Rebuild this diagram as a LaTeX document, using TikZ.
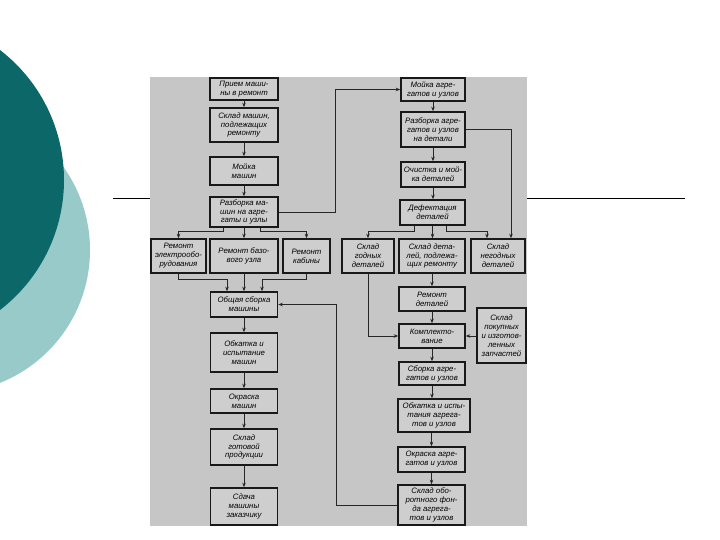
\documentclass[tikz,border=0pt]{standalone}
\usepackage{fontspec}
\setmainfont{Liberation Sans}
\usetikzlibrary{arrows.meta}
\definecolor{tealdark}{RGB}{12,104,104}
\definecolor{teallight}{RGB}{152,202,202}
\definecolor{scangray}{RGB}{198,198,198}
\definecolor{boxgray}{RGB}{206,206,206}
\tikzset{
  bx/.style={draw=black!90, line width=1.6pt, fill=boxgray, inner sep=0.5pt, align=center,
    font=\itshape\fontsize{7.8}{8.9}\selectfont, text=black},
  arr/.style={draw=black!85, line width=0.8pt, -{Stealth[length=4.5pt,width=3.5pt]}},
  slideline/.style={draw=black, line width=0.9pt}
}
\begin{document}
\begin{tikzpicture}[x=1pt,y=-1pt]
\useasboundingbox (0,0) rectangle (720,540);
\clip (0,0) rectangle (720,540);
% slide decoration
\fill[teallight] (-53,250) circle[radius=143pt];
\fill[tealdark] (-100,180) circle[radius=164pt];
\coordinate (hl1) at (113,198);
\coordinate (hl2) at (150,198);
\coordinate (hr1) at (527,198);
\coordinate (hr2) at (685,198);
\draw[slideline] (hl1) -- (hl2);
\draw[slideline] (hr1) -- (hr2);
% scan background
\fill[scangray] (150,77) rectangle (527,526);

% left column
\node[bx, minimum width=68pt, minimum height=22pt] (L1) at (244,89) {Прием маши-\\ны в ремонт};
\node[bx, minimum width=68pt, minimum height=34pt] (L2) at (244,125) {Склад машин,\\подлежащих\\ремонту};
\node[bx, minimum width=68pt, minimum height=28pt] (L3) at (244,171) {Мойка\\машин};
\node[bx, minimum width=68pt, minimum height=30pt] (L4) at (244,212) {Разборка ма-\\шин на агре-\\гаты и узлы};
\node[bx, minimum width=55pt, minimum height=34pt] (E) at (178.5,256) {Ремонт\\электрообо-\\рудования};
\node[bx, minimum width=68pt, minimum height=34pt] (B) at (244,256) {Ремонт базо-\\вого узла};
\node[bx, minimum width=47pt, minimum height=34pt] (K) at (306.5,256) {Ремонт\\кабины};
\node[bx, minimum width=67pt, minimum height=25pt] (L5) at (244,304.5) {Общая сборка\\машины};
\node[bx, minimum width=67pt, minimum height=39pt] (L6) at (244,352.5) {Обкатка и\\испытание\\машин};
\node[bx, minimum width=67pt, minimum height=24pt] (L7) at (244,401) {Окраска\\машин};
\node[bx, minimum width=67pt, minimum height=36pt] (L8) at (244,447) {Склад\\готовой\\продукции};
\node[bx, minimum width=67pt, minimum height=37pt] (L9) at (244,506.5) {Сдача\\машины\\заказчику};

% right column
\node[bx, minimum width=64pt, minimum height=23pt] (R1) at (433,89.5) {Мойка агре-\\гатов и узлов};
\node[bx, minimum width=64pt, minimum height=35pt] (R2) at (433,129.5) {Разборка агре-\\гатов и узлов\\на детали};
\node[bx, minimum width=64pt, minimum height=25pt] (R3) at (433,174.5) {Очистка и мой-\\ка деталей};
\node[bx, minimum width=65pt, minimum height=25pt] (R4) at (432.5,212.5) {Дефектация\\деталей};
\node[bx, minimum width=52pt, minimum height=34pt] (G) at (368,256) {Склад\\годных\\деталей};
\node[bx, minimum width=66pt, minimum height=34pt] (P) at (432,256) {Склад дета-\\лей, подлежа-\\щих ремонту};
\node[bx, minimum width=54pt, minimum height=34pt] (N) at (498,256) {Склад\\негодных\\деталей};
\node[bx, minimum width=66pt, minimum height=24pt] (R5) at (432,299) {Ремонт\\деталей};
\node[bx, minimum width=66pt, minimum height=24pt] (R6) at (432,336) {Комплекто-\\вание};
\node[bx, minimum width=49pt, minimum height=55pt] (S) at (501.5,335.5) {Склад\\покупных\\и изготов-\\ленных\\запчастей};
\node[bx, minimum width=66pt, minimum height=23pt] (R7) at (432,373.5) {Сборка агре-\\гатов и узлов};
\node[bx, minimum width=72pt, minimum height=33pt] (R8) at (434,415.5) {Обкатка и испы-\\тания агрега-\\тов и узлов};
\node[bx, minimum width=67pt, minimum height=25pt] (R9) at (431.5,459.5) {Окраска агре-\\гатов и узлов};
\node[bx, minimum width=67pt, minimum height=40pt] (R10) at (431.5,505) {Склад обо-\\ротного фон-\\да агрега-\\тов и узлов};

% helper coordinates
\coordinate (b1) at (223,231);
\coordinate (b2) at (260,231);
\coordinate (m1) at (227,279);
\coordinate (m2) at (262,279);
\coordinate (c1) at (335,0);
\coordinate (c2) at (511,0);
\coordinate (d1) at (414,231);
\coordinate (d2) at (446,231);
\coordinate (d3) at (487,0);
\coordinate (e1) at (336,0);

% left connectors
\draw[arr] (L1.south) -- (L2.north);
\draw[arr] (L2.south) -- (L3.north);
\draw[arr] (L3.south) -- (L4.north);
\draw[arr] (L4.south -| b1) -- (b1) -| (E.north);
\draw[arr] (L4.south) -- (B.north);
\draw[arr] (L4.south -| b2) -- (b2) -| (K.north);
\draw[arr] (E.south) |- (m1) -- (m1 |- L5.north);
\draw[arr] (B.south) -- (L5.north);
\draw[arr] (K.south) |- (m2) -- (m2 |- L5.north);
\draw[arr] (L5.south) -- (L6.north);
\draw[arr] (L6.south) -- (L7.north);
\draw[arr] (L7.south) -- (L8.north);
\draw[arr] (L8.south) -- (L9.north);

% cross connectors
\draw[arr] (L4.east) -| (c1 |- R1.west) -- (R1.west);
\draw[arr] (R10.west) -| (e1 |- L5.east) -- (L5.east);

% right connectors
\draw[arr] (R1.south) -- (R1.south |- R2.north);
\draw[arr] (R2.south) -- (R2.south |- R3.north);
\draw[arr] (R3.south) -- (R3.south |- R4.north);
\draw[arr] (R2.east) -| (c2 |- N.north);
\draw[arr] (R4.south -| d1) -- (d1) -| (G.north);
\draw[arr] (R4.south) -- (R4.south |- P.north);
\draw[arr] (R4.south -| d2) -- (d2) -| (d3 |- N.north);
\draw[arr] (P.south) -- (P.south |- R5.north);
\draw[arr] (R5.south) -- (R5.south |- R6.north);
\draw[arr] (G.south) |- (R6.west);
\draw[arr] (S.west |- R6.east) -- (R6.east);
\draw[arr] (R6.south) -- (R6.south |- R7.north);
\draw[arr] (R7.south) -- (R7.south |- R8.north);
\draw[arr] (R8.south -| R9.north) -- (R9.north);
\draw[arr] (R9.south) -- (R9.south |- R10.north);
\end{tikzpicture}
\end{document}
